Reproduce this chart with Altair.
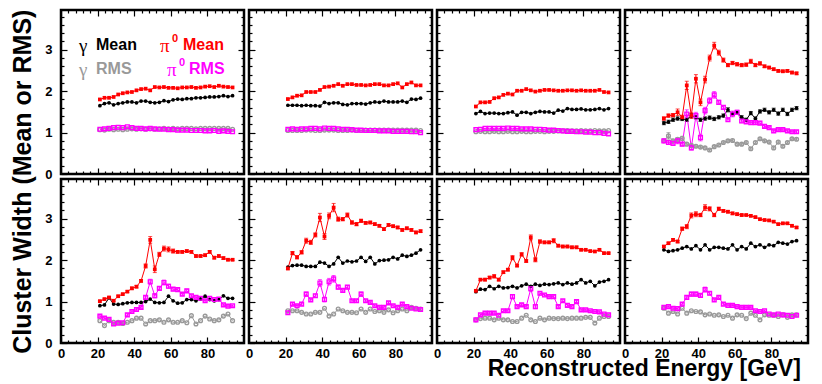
import altair as alt
import pandas as pd

FONT = "Liberation Sans"
W, H = 183, 164
XD = [0, 100]
YD = [0, 3.96]

E = [21.25, 23.75, 26.25, 28.75, 31.25, 33.75, 36.25, 38.75, 41.25, 43.75,
     46.25, 48.75, 51.25, 53.75, 56.25, 58.75, 61.25, 63.75, 66.25, 68.75,
     71.25, 73.75, 76.25, 78.75, 81.25, 83.75, 86.25, 88.75, 91.25, 93.75]

SERIES = ["gm", "pm", "gr", "pr"]
COLORS = ["#000000", "#ff0000", "#999999", "#ff00ff"]

# ---- panel 1 ----
p1_gm = [1.65,1.70,1.72,1.67,1.70,1.72,1.74,1.74,1.72,1.76,1.76,1.73,1.72,1.73,1.77,1.75,1.79,1.81,1.80,1.82,1.82,1.84,1.84,1.85,1.86,1.86,1.87,1.89,1.87,1.89]
p1_pm = [1.80,1.84,1.84,1.86,1.92,1.95,1.97,1.98,2.02,2.05,2.06,2.02,2.10,2.09,2.10,2.08,2.08,2.07,2.09,2.09,2.10,2.08,2.09,2.11,2.12,2.10,2.13,2.11,2.10,2.09]
p1_gr = [1.07,1.06,1.08,1.07,1.08,1.07,1.08,1.09,1.08,1.09,1.08,1.09,1.08,1.09,1.10,1.09,1.10,1.09,1.10,1.10,1.10,1.09,1.10,1.10,1.10,1.10,1.10,1.10,1.10,1.08]
p1_pr = [1.08,1.09,1.10,1.12,1.13,1.12,1.14,1.12,1.10,1.10,1.09,1.10,1.09,1.08,1.08,1.07,1.07,1.06,1.06,1.06,1.05,1.05,1.05,1.04,1.04,1.05,1.03,1.04,1.03,1.02]
# ---- panel 2 ----
p2_gm = [1.66,1.66,1.66,1.65,1.66,1.65,1.65,1.64,1.73,1.70,1.72,1.72,1.68,1.67,1.70,1.70,1.70,1.69,1.72,1.74,1.73,1.76,1.74,1.74,1.74,1.76,1.73,1.81,1.80,1.83]
p2_pm = [1.81,1.85,1.89,1.90,1.98,1.98,1.98,2.03,2.10,2.11,2.13,2.17,2.13,2.17,2.17,2.15,2.15,2.14,2.15,2.17,2.17,2.14,2.14,2.17,2.19,2.09,2.17,2.21,2.14,2.14]
p2_gr = [1.05,1.05,1.05,1.05,1.06,1.06,1.05,1.05,1.06,1.06,1.06,1.05,1.05,1.05,1.06,1.05,1.05,1.06,1.06,1.06,1.06,1.06,1.06,1.06,1.06,1.06,1.06,1.06,1.06,1.05]
p2_pr = [1.08,1.09,1.08,1.09,1.09,1.10,1.10,1.09,1.11,1.10,1.10,1.09,1.08,1.08,1.07,1.06,1.06,1.05,1.05,1.05,1.04,1.04,1.04,1.03,1.03,1.03,1.03,1.02,1.02,1.00]
# ---- panel 3 ----
p3_gm = [1.46,1.51,1.46,1.47,1.47,1.46,1.46,1.48,1.50,1.42,1.49,1.49,1.46,1.49,1.51,1.50,1.50,1.47,1.54,1.52,1.58,1.56,1.56,1.57,1.55,1.55,1.56,1.58,1.55,1.58]
p3_pm = [1.63,1.73,1.73,1.74,1.83,1.85,1.91,1.94,1.92,2.01,2.01,2.05,2.02,1.99,2.01,2.03,2.03,2.02,2.01,2.01,2.02,2.02,2.01,2.02,2.01,2.01,2.01,2.03,1.98,1.97]
p3_gr = [1.02,1.03,1.02,1.02,1.03,1.02,1.02,1.03,1.02,1.02,1.03,1.02,1.02,1.03,1.03,1.02,1.03,1.03,1.04,1.04,1.05,1.04,1.04,1.05,1.04,1.04,1.05,1.04,1.04,1.05]
p3_pr = [1.07,1.08,1.10,1.10,1.10,1.10,1.10,1.11,1.10,1.10,1.09,1.09,1.09,1.08,1.08,1.07,1.06,1.06,1.05,1.04,1.03,1.03,1.02,1.02,1.01,1.01,1.00,1.00,0.98,0.97]
# ---- panel 4 ----
p4_gm = [1.23,1.26,1.31,1.34,1.33,1.31,1.41,1.37,1.31,1.34,1.36,1.33,1.37,1.41,1.55,1.45,1.49,1.37,1.31,1.47,1.34,1.51,1.55,1.49,1.55,1.46,1.55,1.45,1.55,1.59]
p4_pm = [1.34,1.41,1.42,1.49,1.37,2.14,1.41,2.30,1.73,2.28,2.80,3.10,2.93,2.75,2.63,2.68,2.65,2.63,2.64,2.72,2.63,2.67,2.60,2.57,2.53,2.49,2.48,2.49,2.45,2.43]
p4_gr = [0.80,0.92,0.80,0.84,0.86,0.72,0.69,0.67,0.65,0.63,0.58,0.66,0.70,0.76,0.80,0.81,0.72,0.72,0.76,0.61,0.76,0.85,0.80,0.77,0.63,0.77,0.67,0.76,0.85,0.84]
p4_pr = [0.80,0.76,0.74,0.80,0.72,1.45,0.63,1.41,0.88,1.53,1.77,1.91,1.73,1.61,1.31,1.45,1.49,1.28,1.26,1.24,1.24,1.23,1.15,1.12,1.04,1.07,1.07,1.04,1.02,1.02]
# ---- panel 5 ----
p5_gm = [0.90,0.92,1.09,0.94,0.93,0.95,0.97,0.98,0.98,0.98,1.00,1.06,0.98,0.97,0.98,1.13,1.02,0.96,0.97,1.05,1.05,1.02,1.06,1.13,1.05,1.02,1.05,1.14,1.08,1.08]
p5_pm = [1.01,1.06,1.10,1.02,1.13,1.18,1.24,1.32,1.36,1.50,1.86,2.49,1.78,2.14,2.28,2.26,2.22,2.20,2.20,2.22,2.20,2.10,2.10,2.12,2.20,2.06,2.10,2.05,2.01,2.01]
p5_gr = [0.54,0.42,0.54,0.50,0.50,0.47,0.50,0.54,0.60,0.60,0.46,0.54,0.54,0.56,0.50,0.56,0.50,0.50,0.54,0.49,0.66,0.46,0.54,0.65,0.58,0.54,0.56,0.65,0.70,0.54]
p5_pr = [0.65,0.60,0.57,0.46,0.48,0.49,0.68,0.76,0.81,0.86,1.10,1.48,1.14,1.32,1.46,1.37,1.30,1.29,1.18,1.26,1.14,1.10,1.08,1.02,1.08,1.05,1.06,0.92,0.89,0.90]
# ---- panel 6 ----
p6_gm = [1.83,1.87,1.88,1.88,1.85,1.85,1.85,1.95,1.93,1.85,1.91,2.07,1.93,1.98,1.96,1.98,2.07,1.97,2.07,1.91,1.99,2.00,2.01,2.07,2.03,2.12,2.09,2.12,2.17,2.25]
p6_pm = [1.80,2.17,2.07,2.19,2.47,2.43,2.61,3.03,2.57,3.07,3.27,2.99,2.99,3.09,2.91,2.87,2.95,2.90,2.91,2.87,2.83,2.75,2.85,2.82,2.79,2.73,2.77,2.73,2.67,2.70]
p6_gr = [0.78,0.78,0.78,0.74,0.70,0.70,0.74,0.74,0.84,0.65,0.70,0.82,0.78,0.74,0.74,0.73,0.82,0.74,0.82,0.76,0.78,0.74,0.80,0.73,0.78,0.82,0.78,0.86,0.84,0.82]
p6_pr = [0.73,0.94,0.90,0.94,1.18,1.04,1.14,1.45,1.05,1.48,1.55,1.35,1.27,1.35,1.02,1.02,1.18,1.02,0.98,0.90,0.86,0.86,0.97,0.90,0.86,0.94,0.88,0.84,0.82,0.81]
# ---- panel 7 ----
p7_gm = [1.24,1.30,1.29,1.37,1.31,1.37,1.33,1.34,1.37,1.33,1.38,1.42,1.37,1.42,1.39,1.42,1.41,1.43,1.45,1.41,1.45,1.42,1.45,1.53,1.45,1.49,1.38,1.47,1.49,1.53]
p7_pm = [1.26,1.53,1.53,1.58,1.61,1.53,1.71,1.77,2.06,1.87,2.14,1.98,2.55,2.01,2.45,2.43,2.43,2.47,2.35,2.33,2.33,2.31,2.31,2.25,2.25,2.22,2.21,2.25,2.17,2.17]
p7_gr = [0.56,0.59,0.60,0.60,0.56,0.60,0.56,0.56,0.52,0.52,0.60,0.67,0.56,0.52,0.60,0.56,0.60,0.59,0.59,0.60,0.59,0.60,0.60,0.60,0.62,0.62,0.48,0.60,0.64,0.64]
p7_pr = [0.56,0.68,0.72,0.72,0.72,0.67,0.78,0.78,1.12,0.88,0.92,0.88,1.31,0.88,1.20,1.16,1.12,1.12,0.88,1.02,0.91,0.88,1.00,0.80,0.80,0.78,0.76,0.75,0.70,0.68]
# ---- panel 8 ----
p8_gm = [2.25,2.21,2.23,2.25,2.29,2.33,2.27,2.35,2.25,2.37,2.25,2.31,2.31,2.29,2.27,2.37,2.25,2.33,2.27,2.41,2.33,2.37,2.31,2.37,2.35,2.43,2.41,2.39,2.45,2.47]
p8_pm = [2.33,2.41,2.49,2.45,2.76,2.81,3.08,3.11,3.09,3.27,3.24,3.09,3.24,3.19,3.17,3.13,3.11,3.09,3.09,3.07,3.04,2.99,2.97,2.96,2.93,2.87,2.89,2.89,2.83,2.79]
p8_gr = [0.84,0.72,0.76,0.70,0.84,0.72,0.78,0.76,0.75,0.68,0.70,0.67,0.68,0.64,0.67,0.60,0.68,0.67,0.59,0.72,0.67,0.56,0.68,0.67,0.67,0.64,0.68,0.62,0.68,0.68]
p8_pr = [0.86,0.88,0.84,0.83,0.94,1.10,1.18,1.18,1.15,1.29,1.20,1.04,1.10,0.94,0.91,0.91,0.88,0.86,0.86,0.86,0.78,0.76,0.78,0.70,0.68,0.70,0.68,0.67,0.64,0.67]

# ---- statistical errors (visible ones) ----
p4_gm_err = [0.04,0.04,0.04,0.04,0.04,0.04,0.05,0.04,0.04,0.04,0.04,0.04,0.04,0.04,0.05,0.04,0.04,0.04,0.04,0.04,0.04,0.04,0.04,0.04,0.04,0.04,0.04,0.04,0.04,0.04]
p4_pm_err = [0.04,0.04,0.04,0.08,0.05,0.10,0.07,0.10,0.08,0.08,0.07,0.08,0.06,0.05,0.04,0.04,0.04,0.04,0.04,0.05,0.04,0.04,0.03,0.03,0.03,0.03,0.03,0.03,0.03,0.03]
p4_gr_err = [0.04,0.08,0.04,0.04,0.05,0.03,0.03,0.03,0.03,0.03,0.03,0.03,0.03,0.03,0.03,0.03,0.03,0.03,0.03,0.03,0.03,0.03,0.03,0.03,0.03,0.03,0.03,0.03,0.03,0.03]
p4_pr_err = [0.04,0.04,0.05,0.07,0.04,0.10,0.05,0.08,0.08,0.08,0.07,0.08,0.05,0.04,0.04,0.07,0.05,0.04,0.04,0.04,0.04,0.04,0.03,0.03,0.03,0.03,0.03,0.03,0.03,0.03]
p5_pm_err = [0.02,0.02,0.02,0.02,0.02,0.02,0.02,0.03,0.03,0.03,0.05,0.08,0.08,0.05,0.06,0.06,0.05,0.03,0.03,0.03,0.03,0.03,0.03,0.03,0.03,0.03,0.03,0.03,0.02,0.02]
p5_pr_err = [0.02,0.02,0.02,0.02,0.02,0.02,0.03,0.03,0.03,0.03,0.04,0.06,0.05,0.04,0.06,0.05,0.04,0.03,0.03,0.04,0.03,0.03,0.03,0.03,0.03,0.03,0.03,0.02,0.02,0.02]
p6_pm_err = [0.03,0.04,0.04,0.04,0.06,0.05,0.05,0.10,0.07,0.07,0.10,0.05,0.04,0.05,0.04,0.04,0.04,0.03,0.03,0.03,0.03,0.03,0.03,0.03,0.03,0.03,0.03,0.03,0.03,0.03]
p6_pr_err = [0.03,0.03,0.03,0.03,0.05,0.03,0.04,0.08,0.06,0.08,0.08,0.05,0.04,0.04,0.03,0.03,0.05,0.03,0.03,0.03,0.03,0.03,0.03,0.03,0.03,0.03,0.03,0.03,0.03,0.03]
p7_pm_err = [0.02,0.02,0.03,0.03,0.04,0.03,0.03,0.03,0.05,0.03,0.04,0.03,0.06,0.05,0.04,0.03,0.03,0.05,0.03,0.03,0.03,0.03,0.03,0.02,0.02,0.02,0.02,0.02,0.02,0.02]
p7_pr_err = [0.02,0.02,0.03,0.03,0.03,0.03,0.03,0.03,0.05,0.03,0.03,0.03,0.06,0.05,0.04,0.03,0.03,0.03,0.03,0.03,0.03,0.03,0.03,0.02,0.02,0.02,0.02,0.02,0.02,0.02]
p8_pm_err = [0.02,0.02,0.03,0.03,0.04,0.05,0.06,0.06,0.04,0.07,0.05,0.04,0.04,0.03,0.03,0.03,0.03,0.03,0.02,0.02,0.02,0.02,0.02,0.02,0.02,0.02,0.02,0.02,0.02,0.02]
p8_pr_err = [0.02,0.02,0.02,0.02,0.03,0.04,0.05,0.05,0.04,0.06,0.04,0.03,0.03,0.03,0.02,0.02,0.02,0.02,0.02,0.02,0.02,0.02,0.02,0.02,0.02,0.02,0.02,0.02,0.02,0.02]

PANELS = [
    (p1_gm, p1_pm, p1_gr, p1_pr),
    (p2_gm, p2_pm, p2_gr, p2_pr),
    (p3_gm, p3_pm, p3_gr, p3_pr),
    (p4_gm, p4_pm, p4_gr, p4_pr),
    (p5_gm, p5_pm, p5_gr, p5_pr),
    (p6_gm, p6_pm, p6_gr, p6_pr),
    (p7_gm, p7_pm, p7_gr, p7_pr),
    (p8_gm, p8_pm, p8_gr, p8_pr),
]
ERRORS = {
    (3, "gm"): p4_gm_err, (3, "pm"): p4_pm_err, (3, "gr"): p4_gr_err, (3, "pr"): p4_pr_err,
    (4, "pm"): p5_pm_err, (4, "pr"): p5_pr_err,
    (5, "pm"): p6_pm_err, (5, "pr"): p6_pr_err,
    (6, "pm"): p7_pm_err, (6, "pr"): p7_pr_err,
    (7, "pm"): p8_pm_err, (7, "pr"): p8_pr_err,
}

X_MAJ = [0, 20, 40, 60, 80]
X_MIN = [4, 8, 12, 16, 24, 28, 32, 36, 44, 48, 52, 56, 64, 68, 72, 76, 84, 88, 92, 96]
Y_MAJ = [0, 1, 2, 3]
Y_MIN = [0.2, 0.4, 0.6, 0.8, 1.2, 1.4, 1.6, 1.8, 2.2, 2.4, 2.6, 2.8, 3.2, 3.4, 3.6, 3.8]


def axis(orient, values, size, labels=False, pad=4):
    kw = dict(orient=orient, values=values, tickSize=size, offset=-size,
              domain=False, grid=False, title=None, ticks=True,
              tickColor="black", tickWidth=1.2, labels=labels)
    if labels:
        kw.update(labelFont=FONT, labelFontSize=13, labelFontWeight="bold",
                  labelColor="black", labelPadding=pad, labelFlush=False,
                  labelOverlap=False)
    return alt.Axis(**kw)


color = alt.Color("s:N", scale=alt.Scale(domain=SERIES, range=COLORS), legend=None)
shape = alt.Shape("s:N", scale=alt.Scale(domain=SERIES, range=["circle", "square", "circle", "square"]), legend=None)


def xenc(ax, field="E"):
    return alt.X(f"{field}:Q", scale=alt.Scale(domain=XD, nice=False, zero=False), axis=ax)


def yenc(ax, field="v"):
    return alt.Y(f"{field}:Q", scale=alt.Scale(domain=YD, nice=False, zero=False), axis=ax)


def legend_text(txt, px, py, col, size=16, bold=True, font=FONT):
    return alt.Chart(pd.DataFrame({"t": [txt]})).mark_text(
        text=txt, align="left", baseline="middle", font=font, fontSize=size,
        fontWeight="bold" if bold else "normal", color=col
    ).encode(x=alt.value(px), y=alt.value(py))


def panel(k):
    col, row = k % 4, k // 4
    rows = []
    for s, vals in zip(SERIES, PANELS[k]):
        for e, v in zip(E, vals):
            rows.append({"E": e, "s": s, "v": v})
    df = pd.DataFrame(rows)
    erows = []
    for s in SERIES:
        errs = ERRORS.get((k, s))
        if errs is None:
            continue
        vals = PANELS[k][SERIES.index(s)]
        for e, v, d in zip(E, vals, errs):
            erows.append({"E": e, "s": s, "lo": v - d, "hi": v + d})

    base = alt.Chart(df)
    means = base.transform_filter(alt.FieldOneOfPredicate(field="s", oneOf=["gm", "pm"]))
    rms = base.transform_filter(alt.FieldOneOfPredicate(field="s", oneOf=["gr", "pr"]))

    line_m = means.mark_line(strokeWidth=1).encode(
        x=xenc(axis("bottom", X_MAJ, 6, labels=(row == 1), pad=4)),
        y=yenc(axis("left", Y_MAJ, 6, labels=(col == 0), pad=9)),
        color=color)
    line_r = rms.mark_line(strokeWidth=1).encode(
        x=xenc(axis("bottom", X_MIN, 3)), y=yenc(axis("left", Y_MIN, 3)), color=color)
    layers = []
    if erows:
        edf = pd.DataFrame(erows)
        eb = alt.Chart(edf)
        layers.append(eb.mark_rule(strokeWidth=1).encode(
            x=xenc(None), y=yenc(None, "lo"), y2="hi:Q", color=color))
        layers.append(eb.mark_tick(orient="horizontal", size=4, thickness=1).encode(
            x=xenc(None), y=yenc(None, "lo"), color=color))
        layers.append(eb.mark_tick(orient="horizontal", size=4, thickness=1).encode(
            x=xenc(None), y=yenc(None, "hi"), color=color))
    pts_m = means.mark_point(filled=True, size=14, opacity=1).encode(
        x=xenc(axis("top", X_MAJ, 6)), y=yenc(axis("right", Y_MAJ, 6)),
        color=color, shape=shape)
    pts_r = rms.mark_point(filled=False, size=14, strokeWidth=1.4, opacity=1).encode(
        x=xenc(axis("top", X_MIN, 3)), y=yenc(axis("right", Y_MIN, 3)),
        color=color, shape=shape)
    layers += [line_m, line_r, pts_m, pts_r]
    if k == 0:
        serif = "Liberation Serif"
        layers += [
            legend_text("\u03b3", 18, 36, "#000000", 19, False, serif),
            legend_text("Mean", 35, 35, "#000000"),
            legend_text("\u03c0", 99, 36, "#ff0000", 19, False, serif),
            legend_text("0", 111, 29, "#ff0000", 11),
            legend_text("Mean", 122, 35, "#ff0000"),
            legend_text("\u03b3", 18, 60, "#999999", 19, False, serif),
            legend_text("RMS", 35, 59, "#999999"),
            legend_text("\u03c0", 106, 60, "#ff00ff", 19, False, serif),
            legend_text("0", 118, 53, "#ff00ff", 11),
            legend_text("RMS", 128, 59, "#ff00ff"),
        ]
    return alt.layer(*layers).resolve_axis(x="independent", y="independent").properties(width=W, height=H)


grid = alt.concat(
    *[panel(k) for k in range(8)], columns=4, spacing=5, bounds="flush",
    title=alt.TitleParams("Reconstructed Energy [GeV]", orient="bottom", anchor="end",
                          font=FONT, fontSize=23, fontWeight="bold", color="black",
                          offset=-3, dx=-9),
)

chart = alt.hconcat(
    grid, spacing=0,
    title=alt.TitleParams("Cluster Width (Mean or RMS)", orient="left", anchor="middle",
                          font=FONT, fontSize=25, fontWeight="bold", color="black",
                          offset=8, dx=13),
).properties(
    padding={"left": 2, "top": 0, "right": 0, "bottom": 0}
).configure_view(stroke="black", strokeWidth=2.5)

chart.save("out.html", embed_options={"renderer": "svg", "actions": False})
